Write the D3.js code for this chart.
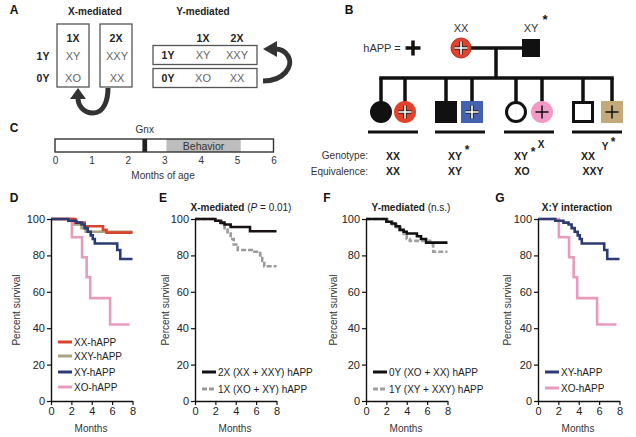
<!DOCTYPE html>
<html><head><meta charset="utf-8">
<script src="https://cdn.jsdelivr.net/npm/d3@7"></script>
<style>
body{margin:0;background:#fff}
svg text{font-family:Arial,"Liberation Sans",Helvetica,sans-serif}
</style>
</head><body>
<svg id="c" width="636" height="437"></svg>
<script>
// ---------------- DATA ----------------
const aXCols = ["1X", "2X"];
const aYRows = ["1Y", "0Y"];
const aCells = [["XY", "XXY"], ["XO", "XX"]];

const ageTicks = [0, 1, 2, 3, 4, 5, 6];
const gnxMonths = [2.4, 2.53];
const behaviorMonths = [3.06, 5.1];

const genotypeLabels = ["XX", "XY", "XY", "XX"];
const equivalenceLabels = ["XX", "XY", "XO", "XXY"];

const kmMonthTicks = [0, 2, 4, 6, 8];
const kmPctTicks = [0, 20, 40, 60, 80, 100];

const xxT  = [0, 2.4, 3.3, 5.1, 5.45, 8];
const xxS  = [100, 98, 96, 94, 92.5, 92.5];
const xxyT = [0, 2.3, 3.0, 3.4, 8];
const xxyS = [100, 97, 95, 93, 93];
const xyT  = [0, 1.7, 2.5, 3.0, 3.3, 3.6, 3.9, 4.1, 4.3, 6.5, 6.8, 8];
const xyS  = [100, 99, 98, 97, 95, 93, 91, 89, 86.5, 83, 78, 78];
const xoT  = [0, 2.05, 3.05, 3.5, 3.85, 5.8, 7.7];
const xoS  = [100, 90, 79, 68, 56.5, 42, 42];

const x2T = [0, 2.0, 2.5, 2.9, 3.5, 5.4, 8];
const x2S = [100, 99, 98, 97, 95.6, 93.3, 93.3];
const x1T = [0, 2.0, 2.6, 2.9, 3.2, 3.5, 3.8, 4.2, 5.7, 6.4, 6.6, 6.8, 8];
const x1S = [100, 99, 97.5, 95, 92, 89, 86, 83, 82, 80, 77, 74, 74];

const y0T = [0, 2.0, 2.5, 2.9, 3.3, 3.7, 4.0, 5.0, 5.4, 5.9, 8];
const y0S = [100, 98.5, 97.5, 96, 94, 93, 92, 90.5, 89, 87, 87];
const y1T = [0, 2.1, 2.6, 3.0, 3.4, 3.7, 4.0, 4.3, 6.3, 6.6, 8];
const y1S = [100, 98.5, 97, 95.5, 93, 91, 89, 88, 86, 82, 82];

// ---------------- DRAW ----------------
const svg = d3.select("#c");
const FONT = 'Arial,"Liberation Sans",Helvetica,sans-serif';

function txt(x, y, s, o = {}) {
  return svg.append("text").attr("x", x).attr("y", y).text(s)
    .attr("font-size", o.size || 10)
    .attr("font-weight", o.bold ? "bold" : "normal")
    .attr("fill", o.fill || "#222")
    .attr("text-anchor", o.anchor || "middle")
    .attr("dominant-baseline", "central");
}

// Panel labels
[["A", 14, 10], ["B", 349, 10], ["C", 14, 128], ["D", 14, 198], ["E", 163, 198], ["F", 327, 198], ["G", 500, 198]]
  .forEach(([l, x, y]) => txt(x, y, l, {bold: true, size: 12, fill: "#111"}));

// ---------- Panel A ----------
txt(95, 11, "X-mediated", {bold: true, size: 10});
txt(203, 11, "Y-mediated", {bold: true, size: 10});
const aBoxX = [57, 100], aBoxW = 32;
const aColX = [73, 116];
const aRowY = [56, 78];
aBoxX.forEach(x => svg.append("rect").attr("x", x).attr("y", 24).attr("width", aBoxW).attr("height", 63)
  .attr("fill", "#fff").attr("stroke", "#555").attr("stroke-width", 1.3));
aXCols.forEach((c, i) => txt(aColX[i], 38, c, {bold: true, size: 10.5}));
aYRows.forEach((r, j) => txt(43, aRowY[j], r, {bold: true, size: 10.5}));
aCells.forEach((row, j) => row.forEach((c, i) => txt(aColX[i] + (i ? 1 : 0), aRowY[j], c, {size: 11, fill: "#666"})));

// Y-mediated boxes
const yColX = [203, 237];
const yRowY = [55, 78];
yRowY.forEach(y => svg.append("rect").attr("x", 153).attr("y", y - 9.5).attr("width", 104).attr("height", 19)
  .attr("fill", "#fff").attr("stroke", "#555").attr("stroke-width", 1.3));
aXCols.forEach((c, i) => txt(yColX[i], 38, c, {bold: true, size: 10.5}));
aYRows.forEach((r, j) => txt(168, yRowY[j], r, {bold: true, size: 10.5}));
aCells.forEach((row, j) => row.forEach((c, i) => txt(yColX[i], yRowY[j], c, {size: 11, fill: "#666"})));

// arrows
svg.append("path").attr("d", "M263,81 C284,81 294,66 288,56 C285,51 281,49 275,49")
  .attr("fill", "none").attr("stroke", "#333").attr("stroke-width", 5);
svg.append("polygon").attr("points", "263,49 277,41 277,57").attr("fill", "#333");
svg.append("path").attr("d", "M108,88 C108,100 104,113 93,113 C83,113 78,105 78,98")
  .attr("fill", "none").attr("stroke", "#333").attr("stroke-width", 5);
svg.append("polygon").attr("points", "78,88 70,99 86,99").attr("fill", "#333");

// ---------- Panel B ----------
function plus(cx, cy, s, mode) {
  const d = `M${cx - s},${cy}H${cx + s}M${cx},${cy - s}V${cy + s}`;
  if (mode === "white") {
    svg.append("path").attr("d", d).attr("stroke", "#222").attr("stroke-width", 3.4).attr("fill", "none");
    svg.append("path").attr("d", d).attr("stroke", "#fff").attr("stroke-width", 1.6).attr("fill", "none");
  } else {
    svg.append("path").attr("d", d).attr("stroke", "#111").attr("stroke-width", mode === "big" ? 3.5 : 1.5).attr("fill", "none");
  }
}
txt(382, 48, "hAPP = ", {size: 11, anchor: "middle", fill: "#333"});
plus(413, 48, 7.5, "big");
const lineCol = "#111", lw = 3.5;
svg.append("line").attr("x1", 470).attr("x2", 523).attr("y1", 48).attr("y2", 48).attr("stroke", lineCol).attr("stroke-width", lw);
svg.append("line").attr("x1", 496).attr("x2", 496).attr("y1", 48).attr("y2", 79).attr("stroke", lineCol).attr("stroke-width", lw);
svg.append("circle").attr("cx", 461).attr("cy", 48).attr("r", 10).attr("fill", "#e4412b").attr("stroke", "#b83020").attr("stroke-width", 1);
plus(461, 48, 6.5, "white");
svg.append("rect").attr("x", 522).attr("y", 39).attr("width", 18).attr("height", 18).attr("fill", "#111");
txt(461, 28, "XX", {size: 11, fill: "#333"});
txt(531, 28, "XY", {size: 11, fill: "#333"});
txt(545, 19, "*", {size: 13, bold: true, fill: "#111"});

const kidX = [381, 405, 446, 472, 516, 542, 583, 612];
const kidY = 112;
svg.append("line").attr("x1", kidX[0] - 1.75).attr("x2", kidX[7] + 1.75).attr("y1", 78).attr("y2", 78).attr("stroke", lineCol).attr("stroke-width", lw);
kidX.forEach(x => svg.append("line").attr("x1", x).attr("x2", x).attr("y1", 78).attr("y2", 102).attr("stroke", lineCol).attr("stroke-width", lw));
const kidShapes = [
  {shape: "c", fill: "#111", stroke: "#111"},
  {shape: "c", fill: "#e4412b", stroke: "#e4412b", plus: "white"},
  {shape: "s", fill: "#111", stroke: "#111"},
  {shape: "s", fill: "#4262b0", stroke: "#4262b0", plus: "white"},
  {shape: "c", fill: "#fff", stroke: "#111", sw: 3},
  {shape: "c", fill: "#f29ac6", stroke: "#f29ac6", plus: "dark"},
  {shape: "s", fill: "#fff", stroke: "#111", sw: 3},
  {shape: "s", fill: "#c4a97a", stroke: "#c4a97a", plus: "dark"}
];
kidShapes.forEach((k, i) => {
  const x = kidX[i];
  if (k.shape === "c") {
    const r = k.sw ? 9.5 : 11;
    svg.append("circle").attr("cx", x).attr("cy", kidY).attr("r", r).attr("fill", k.fill).attr("stroke", k.stroke).attr("stroke-width", k.sw || 0);
  } else {
    const s = k.sw ? 19 : 22;
    svg.append("rect").attr("x", x - s / 2).attr("y", kidY - s / 2).attr("width", s).attr("height", s).attr("fill", k.fill).attr("stroke", k.stroke).attr("stroke-width", k.sw || 0);
  }
  if (k.plus) plus(x, kidY, 6.5, k.plus);
});
// underlines
const ulX = [393, 460, 529, 597];
ulX.forEach(x => svg.append("line").attr("x1", x - 25).attr("x2", x + 25).attr("y1", 132).attr("y2", 132).attr("stroke", "#111").attr("stroke-width", 3));
txt(368, 155, "Genotype:", {size: 10, anchor: "end", fill: "#333"});
txt(368, 171, "Equivalence:", {size: 10, anchor: "end", fill: "#333"});
const genoX = [393, 455, 521, 588];
txt(genoX[0], 156, genotypeLabels[0], {bold: true, size: 10.5});
txt(genoX[1], 156, genotypeLabels[1], {bold: true, size: 10.5});
txt(genoX[1] + 12, 150, "*", {bold: true, size: 12});
txt(genoX[2], 156, genotypeLabels[2], {bold: true, size: 10.5});
txt(genoX[2] + 12, 152, "*", {bold: true, size: 12});
txt(genoX[2] + 20, 144, "X", {bold: true, size: 10});
txt(genoX[3], 156, genotypeLabels[3], {bold: true, size: 10.5});
txt(genoX[3] + 17, 146, "Y", {bold: true, size: 10});
txt(genoX[3] + 25, 142, "*", {bold: true, size: 12});
equivalenceLabels.forEach((l, i) => txt([393, 455, 522, 593][i], 171, l, {bold: true, size: 10.5}));

// ---------- Panel C ----------
const cx = d3.scaleLinear().domain([0, 6]).range([55, 273.5]);
svg.append("rect").attr("x", cx(behaviorMonths[0])).attr("y", 139).attr("width", cx(behaviorMonths[1]) - cx(behaviorMonths[0])).attr("height", 13).attr("fill", "#bdbdbd");
svg.append("rect").attr("x", cx(gnxMonths[0])).attr("y", 139).attr("width", cx(gnxMonths[1]) - cx(gnxMonths[0])).attr("height", 13).attr("fill", "#222");
svg.append("rect").attr("x", cx(0)).attr("y", 139).attr("width", cx(6) - cx(0)).attr("height", 13).attr("fill", "none").attr("stroke", "#333").attr("stroke-width", 1.4);
txt(cx((behaviorMonths[0] + behaviorMonths[1]) / 2), 146, "Behavior", {size: 10.5, fill: "#333"});
txt(cx((gnxMonths[0] + gnxMonths[1]) / 2), 129, "Gnx", {size: 10, fill: "#333"});
const cAxis = svg.append("g").attr("transform", "translate(0,155)")
  .call(d3.axisBottom(cx).tickValues(ageTicks).tickSize(0).tickPadding(2).tickFormat(d3.format("d")));
cAxis.select(".domain").remove();
cAxis.selectAll("text").attr("font-size", 10).attr("fill", "#333").attr("font-family", FONT);
txt(163, 175, "Months of age", {size: 10, fill: "#333"});

// ---------- KM panels ----------
function kmPanel(cfg) {
  const x = d3.scaleLinear().domain([0, 8]).range([cfg.x0, cfg.x0 + 81.5]);
  const y = d3.scaleLinear().domain([0, 100]).range([401, 219]);
  const line = d3.line().x(d => x(d[0])).y(d => y(d[1])).curve(d3.curveStepAfter);
  cfg.series.forEach(s => {
    const pts = s.t.map((t, i) => [t, s.s[i]]);
    svg.append("path").attr("d", line(pts)).attr("fill", "none").attr("stroke", s.color)
      .attr("stroke-width", s.w || 2.6).attr("stroke-dasharray", s.dash || null);
  });
  const ax = svg.append("g").attr("transform", `translate(0,401)`)
    .call(d3.axisBottom(x).tickValues(kmMonthTicks).tickSize(4).tickSizeOuter(0).tickPadding(2));
  const ay = svg.append("g").attr("transform", `translate(${cfg.x0},0)`)
    .call(d3.axisLeft(y).tickValues(kmPctTicks).tickSize(4).tickSizeOuter(0).tickPadding(2));
  [ax, ay].forEach(a => {
    a.select(".domain").attr("stroke", "#111").attr("stroke-width", 1.4);
    a.selectAll(".tick line").attr("stroke", "#111").attr("stroke-width", 1.2);
    a.selectAll("text").attr("font-size", 11).attr("fill", "#222").attr("font-family", FONT);
  });
  txt(cfg.x0 + 40, 428, "Months", {size: 10, fill: "#333"});
  svg.append("text").attr("transform", `translate(${cfg.ylx},310) rotate(-90)`).text("Percent survival")
    .attr("font-size", 10).attr("fill", "#333").attr("text-anchor", "middle").attr("dominant-baseline", "central");
  cfg.legend.forEach((l, i) => {
    const ly = cfg.ly[i];
    svg.append("line").attr("x1", cfg.lx).attr("x2", cfg.lx + 14).attr("y1", ly).attr("y2", ly)
      .attr("stroke", l.color).attr("stroke-width", 3).attr("stroke-dasharray", l.dash || null);
    txt(cfg.lx + 16, ly, l.label, {size: 10, anchor: "start", fill: "#222"});
  });
  if (cfg.title) {
    const t = svg.append("text").attr("x", cfg.tx).attr("y", 207).attr("text-anchor", "middle")
      .attr("dominant-baseline", "central").attr("font-size", 10).attr("fill", "#222");
    cfg.title.forEach(p => t.append("tspan").text(p.s).attr("font-weight", p.b ? "bold" : "normal").attr("font-style", p.i ? "italic" : "normal"));
  }
}

const cXX = "#d8442d", cXXY = "#aaa482", cXY = "#2c3b74", cXO = "#e89cbd";

kmPanel({
  x0: 51, ylx: 16, lx: 58, ly: [342, 356, 372, 387],
  series: [
    {t: xoT, s: xoS, color: cXO},
    {t: xxyT, s: xxyS, color: cXXY},
    {t: xxT, s: xxS, color: cXX},
    {t: xyT, s: xyS, color: cXY}
  ],
  legend: [
    {label: "XX-hAPP", color: cXX},
    {label: "XXY-hAPP", color: cXXY},
    {label: "XY-hAPP", color: cXY},
    {label: "XO-hAPP", color: cXO}
  ]
});

kmPanel({
  x0: 195, ylx: 165, lx: 202, ly: [372, 389], tx: 241,
  title: [{s: "X-mediated ", b: true}, {s: "("}, {s: "P", i: true}, {s: " = 0.01)"}],
  series: [
    {t: x1T, s: x1S, color: "#9a9a9a", dash: "5,2"},
    {t: x2T, s: x2S, color: "#1a1212"}
  ],
  legend: [
    {label: "2X (XX + XXY) hAPP", color: "#111"},
    {label: "1X (XO + XY) hAPP", color: "#9a9a9a", dash: "5,2"}
  ]
});

kmPanel({
  x0: 366, ylx: 333, lx: 373, ly: [372, 389], tx: 411,
  title: [{s: "Y-mediated ", b: true}, {s: "(n.s.)"}],
  series: [
    {t: y1T, s: y1S, color: "#a0a0a0", dash: "5,2"},
    {t: y0T, s: y0S, color: "#111"}
  ],
  legend: [
    {label: "0Y (XO + XX) hAPP", color: "#111"},
    {label: "1Y (XY + XXY) hAPP", color: "#a0a0a0", dash: "5,2"}
  ]
});

kmPanel({
  x0: 538, ylx: 507, lx: 545, ly: [372, 388], tx: 577,
  title: [{s: "X:Y interaction", b: true}],
  series: [
    {t: xoT, s: xoS, color: cXO},
    {t: xyT, s: xyS, color: cXY}
  ],
  legend: [
    {label: "XY-hAPP", color: cXY},
    {label: "XO-hAPP", color: cXO}
  ]
});
</script>
</body></html>
